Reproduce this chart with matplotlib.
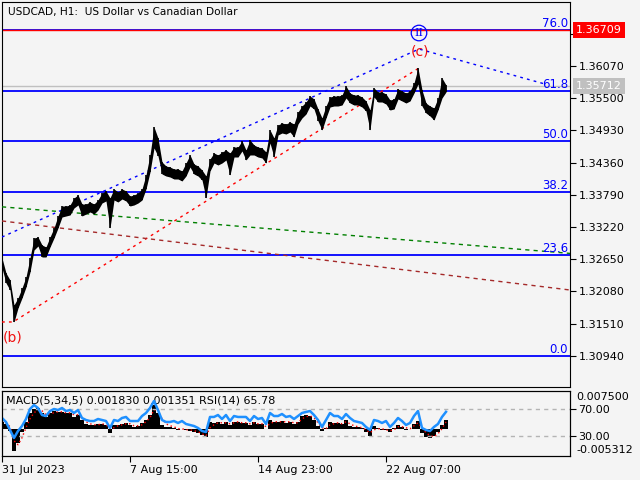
import numpy as np
import matplotlib
matplotlib.use("Agg")
from matplotlib import pyplot as plt

BG = "#f4f4f4"
BLUE = "#0000ff"

# USDCAD H1 - one sample every 4 hourly bars, starting 31 Jul 2023
bar_step = 4
hi = [1.32672, 1.32406, 1.32282, 1.31840, 1.31964, 1.32141, 1.32335, 1.32672, 1.33026, 1.33043,
      1.32902, 1.32866, 1.33043, 1.33203, 1.33415, 1.33592, 1.33592, 1.33610, 1.33734, 1.33787,
      1.33627, 1.33627, 1.33663, 1.33627, 1.33698, 1.33822, 1.33858, 1.33734, 1.33893, 1.33840,
      1.33893, 1.33858, 1.33769, 1.33787, 1.33822, 1.33893, 1.34141, 1.34495, 1.34990, 1.34796,
      1.34371, 1.34300, 1.34282, 1.34247, 1.34247, 1.34212, 1.34353, 1.34495, 1.34335, 1.34300,
      1.34229, 1.34123, 1.34424, 1.34530, 1.34495, 1.34548, 1.34583, 1.34530, 1.34636, 1.34636,
      1.34743, 1.34583, 1.34760, 1.34672, 1.34636, 1.34619, 1.34548, 1.34937, 1.34796, 1.35026,
      1.35061, 1.35043, 1.35079, 1.35043, 1.35256, 1.35362, 1.35433, 1.35539, 1.35486, 1.35309,
      1.35150, 1.35362, 1.35521, 1.35539, 1.35539, 1.35557, 1.35716, 1.35592, 1.35557, 1.35557,
      1.35521, 1.35451, 1.35291, 1.35681, 1.35610, 1.35610, 1.35574, 1.35468, 1.35486, 1.35663,
      1.35628, 1.35592, 1.35628, 1.35769, 1.36035, 1.35645, 1.35415, 1.35362, 1.35327, 1.35504,
      1.35858, 1.35734]
lo = [1.32495, 1.32229, 1.32105, 1.31539, 1.31787, 1.31964, 1.32158, 1.32424, 1.32813, 1.32884,
      1.32689, 1.32689, 1.32866, 1.33026, 1.33203, 1.33397, 1.33415, 1.33433, 1.33557, 1.33610,
      1.33415, 1.33450, 1.33486, 1.33450, 1.33521, 1.33645, 1.33681, 1.33203, 1.33698, 1.33663,
      1.33716, 1.33681, 1.33592, 1.33610, 1.33645, 1.33698, 1.33893, 1.34194, 1.34619, 1.34477,
      1.34158, 1.34123, 1.34105, 1.34070, 1.34070, 1.34035, 1.34123, 1.34282, 1.34158, 1.34123,
      1.34052, 1.33734, 1.34212, 1.34353, 1.34318, 1.34353, 1.34406, 1.34141, 1.34459, 1.34459,
      1.34566, 1.34406, 1.34495, 1.34495, 1.34459, 1.34442, 1.34353, 1.34707, 1.34459, 1.34849,
      1.34884, 1.34866, 1.34902, 1.34813, 1.35043, 1.35150, 1.35220, 1.35362, 1.35309, 1.35097,
      1.34937, 1.35150, 1.35344, 1.35362, 1.35362, 1.35380, 1.35504, 1.35415, 1.35380, 1.35380,
      1.35344, 1.35274, 1.34937, 1.35521, 1.35433, 1.35433, 1.35397, 1.35291, 1.35309, 1.35486,
      1.35451, 1.35415, 1.35451, 1.35592, 1.35751, 1.35362, 1.35238, 1.35185, 1.35114, 1.35291,
      1.35504, 1.35610]

macd = [0.00139, 0.00099, -0.00040, -0.00436, -0.00277, -0.00059, 0.00139, 0.00317, 0.00396, 0.00416,
        0.00317, 0.00238, 0.00317, 0.00356, 0.00337, 0.00337, 0.00317, 0.00317, 0.00238, 0.00277,
        0.00178, 0.00099, 0.00079, 0.00079, 0.00099, 0.00099, 0.00079, -0.00079, 0.00079, 0.00079,
        0.00099, 0.00119, 0.00079, 0.00040, 0.00059, 0.00119, 0.00178, 0.00277, 0.00475, 0.00317,
        0.00079, 0.00040, 0.00040, 0.00020, -0.00020, 0.00000, -0.00020, -0.00040, -0.00059, -0.00079,
        -0.00119, -0.00158, 0.00139, 0.00119, 0.00139, 0.00099, 0.00139, 0.00079, 0.00139, 0.00139,
        0.00119, 0.00119, 0.00079, 0.00139, 0.00099, 0.00099, 0.00000, 0.00178, 0.00139, 0.00139,
        0.00158, 0.00119, 0.00139, 0.00099, 0.00139, 0.00257, 0.00277, 0.00257, 0.00178, 0.00059,
        -0.00040, 0.00020, 0.00139, 0.00119, 0.00119, 0.00099, 0.00178, 0.00059, 0.00040, 0.00040,
        0.00020, -0.00059, -0.00139, 0.00059, 0.00020, -0.00020, -0.00020, -0.00059, 0.00020, 0.00079,
        0.00040, -0.00020, 0.00000, 0.00099, 0.00158, -0.00079, -0.00158, -0.00178, -0.00139, -0.00059,
        0.00079, 0.00183]
signal = [0.00158, 0.00119, 0.00040, -0.00238, -0.00317, -0.00178, 0.00020, 0.00198, 0.00317, 0.00376,
          0.00356, 0.00277, 0.00297, 0.00317, 0.00337, 0.00337, 0.00317, 0.00317, 0.00277, 0.00277,
          0.00218, 0.00139, 0.00099, 0.00079, 0.00079, 0.00099, 0.00079, 0.00000, 0.00020, 0.00059,
          0.00079, 0.00099, 0.00099, 0.00059, 0.00059, 0.00079, 0.00139, 0.00218, 0.00376, 0.00376,
          0.00198, 0.00099, 0.00059, 0.00040, 0.00000, 0.00000, -0.00020, -0.00020, -0.00040, -0.00059,
          -0.00099, -0.00139, 0.00020, 0.00079, 0.00119, 0.00119, 0.00119, 0.00099, 0.00119, 0.00139,
          0.00119, 0.00119, 0.00099, 0.00119, 0.00099, 0.00099, 0.00040, 0.00099, 0.00139, 0.00139,
          0.00139, 0.00139, 0.00139, 0.00119, 0.00119, 0.00198, 0.00238, 0.00257, 0.00218, 0.00119,
          0.00020, 0.00000, 0.00079, 0.00099, 0.00119, 0.00099, 0.00139, 0.00099, 0.00059, 0.00040,
          0.00020, -0.00020, -0.00079, -0.00020, 0.00000, 0.00000, -0.00020, -0.00040, -0.00020, 0.00040,
          0.00040, 0.00020, 0.00000, 0.00059, 0.00119, 0.00020, -0.00079, -0.00139, -0.00158, -0.00099,
          0.00000, 0.001351]
rsi = [56.7, 50.8, 38.9, 27.1, 37.4, 44.8, 55.2, 70.0, 75.9, 71.5,
       61.1, 59.6, 67.0, 70.0, 68.5, 71.5, 67.0, 68.5, 64.1, 68.5,
       56.7, 53.7, 52.2, 52.2, 55.2, 53.7, 52.2, 41.9, 53.7, 52.2,
       56.7, 58.2, 52.2, 52.2, 52.2, 59.6, 64.1, 71.5, 81.8, 68.5,
       53.7, 50.8, 50.8, 52.2, 49.3, 52.2, 47.8, 46.3, 44.8, 41.9,
       37.4, 35.9, 58.2, 58.2, 61.1, 55.2, 61.1, 52.2, 59.6, 58.2,
       58.2, 58.2, 52.2, 59.6, 55.2, 56.7, 47.8, 64.1, 59.6, 59.6,
       62.6, 58.2, 59.6, 55.2, 59.6, 64.1, 65.6, 67.0, 61.1, 53.7,
       43.4, 53.7, 64.1, 59.6, 59.6, 55.2, 62.6, 56.7, 52.2, 50.8,
       49.3, 43.4, 38.9, 53.7, 52.2, 49.3, 52.2, 43.4, 49.3, 56.7,
       52.2, 46.3, 49.3, 59.6, 67.0, 41.9, 38.9, 37.4, 43.4, 47.8,
       58.2, 65.78]

# fibonacci grid
fib_low, fib_high = 1.30940, 1.38528
fib_levels = [0.0, 23.6, 38.2, 50.0, 61.8, 76.0]

# trend lines: (bar index, price) pairs
wave_line_x = [0, 417, 543]
wave_line_y = [1.33043, 1.36371, 1.35751]
red_line_x = [0, 11, 417]
red_line_y = [1.31539, 1.31539, 1.36035]
green_line_x = [0, 568]
green_line_y = [1.33577, 1.32753]
brown_line_x = [0, 568]
brown_line_y = [1.33327, 1.32105]

price_ticks = [1.30940, 1.31510, 1.32080, 1.32650, 1.33220, 1.33790,
               1.34360, 1.34930, 1.35500, 1.36070, 1.36640]
time_ticks = [0, 128, 256, 384]
time_labels = ["31 Jul 2023", "7 Aug 15:00", "14 Aug 23:00", "22 Aug 07:00"]
ask_line = 1.36709
bid_line = 1.35712

xs = np.arange(len(hi)) * bar_step

plt.rcParams["font.family"] = "DejaVu Sans"
plt.rcParams["font.size"] = 8

W, H = 640, 480
fig = plt.figure(figsize=(6.4, 4.8), dpi=100, facecolor=BG)


def px_axes(l, t, r, b):
    return fig.add_axes([l / W, 1 - b / H, (r - l) / W, (b - t) / H])


ax = px_axes(2, 2, 570, 387)
ax.set_facecolor(BG)
ax.set_xlim(0, 568)
ax.set_ylim(1.30388, 1.37203)

# price bars
ax.fill_between(xs, lo, hi, color="black", lw=0, zorder=4)
ax.vlines(xs, lo, hi, color="black", lw=1.2, zorder=4)

for lev in fib_levels:
    p = fib_low + (fib_high - fib_low) * lev / 100
    ax.axhline(p, color=BLUE, lw=1.3, zorder=2)
    ax.text(566, p, "%.1f" % lev, color=BLUE, ha="right", va="bottom", fontsize=8.5, zorder=5)

ax.axhline(ask_line, color="red", lw=1.0, zorder=2.5)
ax.axhline(bid_line, color="#c0c0c0", lw=1.0, zorder=1.5)

ax.plot(wave_line_x, wave_line_y, color=BLUE, lw=1, ls=(0, (2, 3)), zorder=3)
ax.plot(red_line_x, red_line_y, color="red", lw=1, ls=(0, (2, 3)), zorder=3)
ax.plot(green_line_x, green_line_y, color="green", lw=1, ls=(0, (3, 3)), zorder=3)
ax.plot(brown_line_x, brown_line_y, color="#a52a2a", lw=1, ls=(0, (3, 3)), zorder=3)

ax.text(1, 1.31256, "(b)", color="#f01010", fontsize=10, ha="left", va="center", zorder=6)
ax.text(418, 1.36318, "(c)", color="#f01010", fontsize=10, ha="center", va="center", zorder=6)
ax.text(417, 1.36654, "II", color=BLUE, fontsize=8, family="DejaVu Serif", ha="center", va="center",
        zorder=6, bbox=dict(boxstyle="circle,pad=0.25", fc="none", ec=BLUE, lw=0.9))

ax.text(0.0106, 0.974, "USDCAD, H1:  US Dollar vs Canadian Dollar", transform=ax.transAxes,
        ha="left", va="center", fontsize=7.6)

ax.yaxis.tick_right()
ax.set_yticks(price_ticks)
ax.set_yticklabels(["%.5f" % t for t in price_ticks])
ax.tick_params(axis="y", direction="out", length=4, pad=2, labelsize=8)
ax.set_xticks([])
for s in ax.spines.values():
    s.set_color("black")

for price, fc in [(ask_line, "red"), (bid_line, "#c0c0c0")]:
    ax.text(1.0106, price, "%.5f" % price, transform=ax.get_yaxis_transform(), color="white",
            ha="left", va="center", fontsize=8, zorder=10, clip_on=False,
            bbox=dict(boxstyle="square,pad=0.25", fc=fc, ec="none"))

# indicator window
ax2 = px_axes(2, 391, 570, 455.5)
ax2.set_facecolor(BG)
ax2.set_xlim(0, 568)
ax2.set_ylim(-0.005312, 0.0075)
ax2.bar(xs, macd, width=bar_step, color="black", lw=0)
ax2.plot(xs, signal, color="red", lw=1, ls=(0, (1, 2)))
ax2.set_yticks([])
ax2.set_xticks(time_ticks)
ax2.set_xticklabels(time_labels)
for t in ax2.get_xticklabels():
    t.set_ha("left")
ax2.tick_params(axis="x", direction="out", length=4, pad=3, labelsize=8)

ax3 = ax2.twinx()
ax3.set_xlim(0, 568)
ax3.set_ylim(1.11, 96.67)
ax3.axhline(70, color="#b4b4b4", lw=1, ls=(0, (3, 3)))
ax3.axhline(30, color="#b4b4b4", lw=1, ls=(0, (3, 3)))
ax3.plot(xs, rsi, color="#1e90ff", lw=1.8)
ax3.set_yticks([30, 70])
ax3.set_yticklabels(["30.00", "70.00"])
ax3.tick_params(axis="y", direction="out", length=4, pad=2, labelsize=8)

ax2.text(1.0106, 0.90, "0.007500", transform=ax2.transAxes, ha="left", va="center", fontsize=8)
ax2.text(1.0106, 0.09, "-0.005312", transform=ax2.transAxes, ha="left", va="center", fontsize=8)
ax2.text(0.007, 0.845, "MACD(5,34,5) 0.001830 0.001351 RSI(14) 65.78", transform=ax2.transAxes,
         ha="left", va="center", fontsize=8, zorder=10)

fig.savefig("out.png", dpi=100, facecolor=BG)
